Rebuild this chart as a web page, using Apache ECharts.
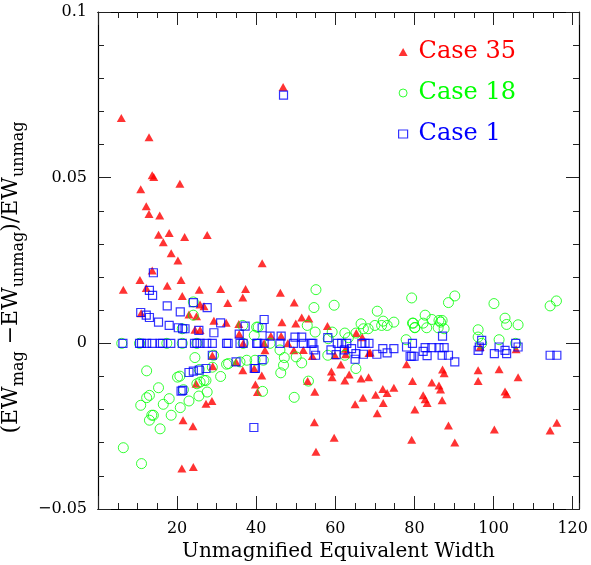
<!DOCTYPE html>
<html>
<head>
<meta charset="utf-8">
<title>EW mag vs unmag</title>
<script src="https://cdn.jsdelivr.net/npm/echarts@6/dist/echarts.min.js"></script>
<style>
    html,body{margin:0;padding:0;background:#fff;}
    #chart{width:591px;height:565px;}
</style>
</head>
<body>
<div id="chart"></div>
<script>
//数据 [Unmagnified EW, (EWmag-EWunmag)/EWunmag]
var case35 = [
    [5.9,0.068],[12.9,0.0622],[13.7,0.0507],[14.1,0.0502],[20.7,0.0482],[10.8,0.0465],[12.2,0.0414],[12.9,0.039],
    [15.6,0.0386],[15.3,0.0328],[18.0,0.0333],[21.9,0.0321],[27.6,0.0327],[16.5,0.0305],[18.5,0.0272],[20.2,0.025],
    [41.5,0.0242],[13.7,0.022],[10.6,0.0191],[21.0,0.0191],[12.2,0.0167],[17.5,0.0174],[6.4,0.0162],[25.6,0.0162],
    [31.0,0.0164],[37.3,0.0164],[46.1,0.0153],[10.9,0.0091],[21.3,0.0143],[25.8,0.0117],[26.8,0.0112],[32.8,0.0122],
    [36.6,0.0138],[23.0,0.0087],[24.9,0.0082],[29.3,0.0068],[32.4,0.0062],[35.6,0.0058],[24.5,0.0041],[25.8,0.004],
    [35.7,0.0028],[36.7,0.0],[28.9,-0.0037],[29.0,-0.0069],[34.9,-0.0056],[36.6,-0.0081],[39.8,-0.0124],[40.3,-0.0147],
    [24.8,-0.0122],[28.8,-0.0174],[27.3,-0.0182],[21.5,-0.0232],[24.0,-0.025],[21.2,-0.0378],[24.1,-0.0373],
    [49.6,0.0123],[46.5,0.0064],[50.0,0.006],[51.5,0.0078],[53.3,0.0075],[58.0,0.0052],[65.3,0.0031],[66.8,0.0018],
    [42.2,-0.0021],[43.7,0.0022],[46.3,0.0022],[48.0,0.0],[49.5,-0.0021],[51.9,-0.002],[54.2,-0.0038],[59.9,-0.0036],
    [62.6,-0.0016],[62.6,-0.0033],[68.5,-0.0029],[78.0,-0.0063],[39.5,-0.0076],[41.4,-0.0097],[42.0,0.0],
    [61.4,-0.0064],[59.0,-0.0085],[59.2,-0.0102],[63.5,-0.0094],[62.4,-0.0112],[53.0,-0.0114],[54.8,-0.0146],
    [66.5,-0.0106],[68.4,-0.0102],[68.8,-0.0028],[79.5,-0.0114],[72.0,-0.0138],[73.1,-0.015],[74.8,-0.0134],
    [70.2,-0.0155],[67.0,-0.0164],[65.0,-0.0184],[72.1,-0.018],[70.6,-0.0211],[80.1,-0.02],[54.7,-0.0238],
    [59.7,-0.0285],[79.3,-0.0291],[55.1,-0.0327],[87.1,-0.0079],[87.5,-0.009],[96.1,-0.0081],[101.4,-0.0078],
    [106.2,-0.0102],[84.4,-0.0118],[86.2,-0.0127],[86.6,-0.0139],[96.1,-0.0114],[102.9,-0.0145],[103.3,-0.0154],
    [82.2,-0.0157],[82.7,-0.0169],[83.2,-0.018],[87.0,-0.0172],[88.6,-0.0248],[100.2,-0.026],[114.3,-0.0263],
    [116.0,-0.024],[90.2,-0.0299],[96.6,-0.0011],[105.7,-0.0018],[46.8,0.0774]
];
var case18 = [
    [6.0,0],[10.5,0],[17.4,0],[21.3,0],[25.0,0],[36.7,0],[24.1,0.0125],[24.1,0.0085],[36.6,0.0054],[40.1,0.0049],
    [39.5,0.0024],[21.3,0.0044],[24.5,-0.0043],[29.2,-0.0036],[28.9,-0.0072],[32.5,-0.0063],[33.0,-0.0061],
    [35.9,-0.0056],[37.6,-0.0051],[39.7,-0.0051],[41.8,-0.0051],[12.3,-0.0083],[20.1,-0.0102],[20.7,-0.0099],
    [25.6,-0.0079],[21.6,-0.014],[25.0,-0.0122],[25.8,-0.0117],[26.8,-0.0112],[27.3,-0.0112],[31.0,-0.01],
    [27.6,-0.0147],[25.5,-0.0159],[23.0,-0.0174],[20.8,-0.0194],[15.3,-0.0134],[13.0,-0.0157],[12.3,-0.0164],
    [10.8,-0.0187],[16.5,-0.0184],[18.0,-0.0167],[18.5,-0.0217],[13.6,-0.0217],[14.0,-0.0217],[13.0,-0.0232],
    [15.7,-0.0258],[6.4,-0.0315],[11.0,-0.0363],
    [55.1,0.0162],[54.6,0.0108],[59.7,0.0115],[79.3,0.0137],[70.6,0.0097],[72.1,0.0067],[74.8,0.0064],[73.1,0.0054],
    [71.7,0.0054],[70.0,0.0054],[68.3,0.0044],[66.5,0.0059],[67.1,0.0044],[79.5,0.0061],[80.1,0.0048],[40.5,0.0049],
    [52.9,0.0054],[54.9,0.0034],[59.2,0.0034],[62.4,0.0031],[63.3,0.0017],[65.2,0.0031],[58.2,0.0014],[43.5,0],
    [46.0,-0.002],[47.1,-0.0043],[46.9,-0.0066],[46.2,-0.0089],[50.1,-0.0041],[51.5,-0.0059],[58.1,-0.0036],
    [62.4,-0.0036],[65.2,-0.0076],[77.9,0.0011],[41.6,-0.0145],[49.6,-0.0163],[53.2,-0.0114],
    [90.2,0.0143],[88.6,0.0123],[100.1,0.012],[115.9,0.0128],[114.3,0.0113],[82.7,0.0085],[84.4,0.0072],[83.1,0.0047],
    [82.2,0.0061],[79.7,0.0061],[80.1,0.0047],[86.2,0.0069],[87.0,0.0069],[86.6,0.0064],[86.0,0.0047],[87.5,0.0044],
    [102.9,0.0076],[103.3,0.0057],[106.2,0.0056],[96.1,0.0041],[96.1,0.0019],[101.4,0.0011],[105.6,0],[97.0,0]
];
var case1 = [
    [14.0,0.0213],[13.0,0.016],[13.8,0.0145],[10.8,0.0093],[12.2,0.0085],[13.0,0.0078],[17.5,0.0113],[20.8,0.0095],
    [24.1,0.0123],[27.6,0.0108],[15.3,0.0064],[18.0,0.0054],[20.3,0.0047],[21.4,0.0044],[22.0,0.0044],[25.5,0.0039],
    [29.3,0.0032],[31.0,0.0062],[37.2,0.0052],[35.7,0.0028],
    [6.3,0],[10.5,0],[11.0,0],[12.3,0],[13.7,0],[15.7,0],[16.3,0],[18.4,0],[21.3,0],[24.4,0],[25.0,0],[25.8,0],
    [27.5,0],[28.9,0],[32.5,0],[32.9,0],[35.9,0],[36.7,0],[40.1,0],
    [28.9,-0.0036],[34.9,-0.0056],[27.3,-0.0076],[25.6,-0.0081],[24.1,-0.0084],[23.0,-0.0088],[39.8,-0.0076],
    [21.4,-0.0142],[21.0,-0.0144],[39.4,-0.0254],
    [42.0,0.0072],[41.5,0.0047],[43.5,0.0022],[46.3,0.0022],[49.8,0.0019],[51.5,0.0019],[58.1,0.0017],[40.4,0],
    [42.0,0],[46.0,0],[49.4,0],[51.9,0],[53.9,0],[54.3,0],[60.5,0],[61.6,0],[62.9,0],[66.7,0],[67.5,0],[68.5,0],
    [54.6,-0.002],[58.9,-0.002],[62.3,-0.002],[64.1,-0.0016],[55.0,-0.0036],[60.2,-0.0034],[65.2,-0.0031],
    [67.1,-0.0033],[70.5,-0.0033],[72.0,-0.0016],[73.1,-0.0029],[74.8,-0.0016],[65.0,-0.0048],[41.5,-0.0049],
    [39.5,-0.0076],[78.0,-0.0011],[79.5,0],[78.9,-0.0039],[79.9,-0.0039],
    [87.1,0.0022],[97.0,0.0009],[96.4,-0.0011],[96.1,-0.0021],[82.7,-0.0013],[84.4,-0.0013],[86.2,-0.0013],
    [87.5,-0.0013],[82.2,-0.0024],[83.2,-0.0037],[87.0,-0.0036],[88.6,-0.0036],[90.2,-0.0056],[79.3,-0.0039],
    [100.2,-0.0031],[101.4,-0.0011],[102.9,-0.0021],[103.3,-0.0031],[105.6,0],[106.2,-0.0011],[114.3,-0.0036],
    [116.0,-0.0036],[46.9,0.0749]
];
var seriesNames = ['Case 35','Case 18','Case 1'];
var seriesColors = ['#ff0000','#00ff00','#0000ff'];
//坐标轴范围及刻度
var xRange = [0, 121.6];
var yRange = [-0.05, 0.1];
var xTickMajor = 20, xTickMinor = 5;
var yTickMajor = 0.05;
var yTickLabels = {'0.1':'0.1','0.05':'0.05','0':'0','-0.05':'\u22120.05'};

var fontFam = 'DejaVu Serif';

//x轴 (底部/顶部, 长刻度/短刻度)
function xAxisCfg(pos, interval, len, showLabel) {
    return {
        type: 'value',
        position: pos,
        min: xRange[0],
        max: xRange[1],
        interval: interval,
        axisLine: {show: true, onZero: false, lineStyle: {color: '#000', width: 1.2}},
        axisTick: {show: true, inside: true, length: len, lineStyle: {color: '#222', width: 1}},
        splitLine: {show: false},
        axisLabel: {
            show: showLabel,
            margin: 12,
            color: '#000',
            fontFamily: fontFam,
            fontSize: 16,
            showMaxLabel: false,
            formatter: function (v) {
                if (v <= 0 || Math.abs(v % xTickMajor) > 1e-6) return '';
                return String(v);
            }
        }
    };
}
//y轴
function yAxisCfg(pos, showLabel) {
    var cfg = {
        type: 'value',
        position: pos,
        min: yRange[0],
        max: yRange[1],
        interval: yTickMajor,
        axisLine: {show: true, onZero: false, lineStyle: {color: '#000', width: 1.2}},
        axisTick: {show: true, inside: true, length: 13, lineStyle: {color: '#222', width: 1}},
        minorTick: {show: true, splitNumber: 5, length: 6, lineStyle: {color: '#222', width: 1}},
        splitLine: {show: false},
        axisLabel: {
            show: showLabel,
            margin: 11,
            color: '#000',
            fontFamily: fontFam,
            fontSize: 16,
            formatter: function (v) {
                var k = String(Math.round(v * 100) / 100);
                return yTickLabels[k] !== undefined ? yTickLabels[k] : '';
            }
        }
    };
    if (showLabel) {
        cfg.name = '(EW{s|mag} \u2212EW{s|unmag})/EW{s|unmag}';
        cfg.nameLocation = 'middle';
        cfg.nameRotate = 90;
        cfg.nameGap = 33;
        cfg.nameTextStyle = {
            color: '#000',
            fontFamily: fontFam,
            fontSize: 22,
            lineHeight: 32,
            padding: [0, 34, 0, 0],
            rich: {
                s: {fontFamily: fontFam, fontSize: 16, verticalAlign: 'bottom', lineHeight: 24, padding: [9, 0, 0, 0]}
            }
        };
    }
    return cfg;
}

function buildSeries() {
    var markStyles = [
        {symbol: 'triangle', symbolSize: [9, 8], itemStyle: {color: seriesColors[0]}},
        {symbol: 'circle', symbolSize: 10, itemStyle: {color: 'rgba(0,0,0,0)', borderColor: seriesColors[1], borderWidth: 1}},
        {symbol: 'rect', symbolSize: 8, itemStyle: {color: 'rgba(0,0,0,0)', borderColor: seriesColors[2], borderWidth: 1.2}}
    ];
    var datas = [case35, case18, case1];
    var arr = [];
    for (var i = 0; i < datas.length; i++) {
        arr.push({
            name: seriesNames[i],
            type: 'scatter',
            xAxisIndex: 0,
            yAxisIndex: 0,
            symbol: markStyles[i].symbol,
            symbolSize: markStyles[i].symbolSize,
            itemStyle: markStyles[i].itemStyle,
            emphasis: {disabled: true},
            silent: true,
            z: 2 + i,
            data: datas[i]
        });
    }
    return arr;
}

function createChart() {
    var chart = echarts.init(document.getElementById('chart'), null, {renderer: 'canvas'});
    var option = {
        animation: false,
        backgroundColor: '#fff',
        grid: {left: 98, top: 12, width: 481, height: 497, containLabel: false, outerBoundsMode: 'none'},
        legend: {
            orient: 'vertical',
            left: 398,
            top: 39,
            padding: 0,
            itemGap: 15,
            itemWidth: 9,
            itemHeight: 8,
            selectedMode: false,
            textStyle: {fontFamily: fontFam, fontSize: 24, lineHeight: 26, padding: [0, 0, 0, 6]},
            data: [
                {name: seriesNames[0], icon: 'triangle', itemStyle: {color: seriesColors[0]}, textStyle: {color: seriesColors[0]}},
                {name: seriesNames[1], icon: 'circle', itemStyle: {color: 'rgba(0,0,0,0)', borderColor: seriesColors[1], borderWidth: 1}, textStyle: {color: seriesColors[1]}},
                {name: seriesNames[2], icon: 'rect', itemStyle: {color: 'rgba(0,0,0,0)', borderColor: seriesColors[2], borderWidth: 1.2}, textStyle: {color: seriesColors[2]}}
            ]
        },
        xAxis: [
            (function () {
                var a = xAxisCfg('bottom', xTickMajor, 13, true);
                a.name = 'Unmagnified Equivalent Width';
                a.nameLocation = 'middle';
                a.nameGap = 30;
                a.nameTextStyle = {color: '#000', fontFamily: fontFam, fontSize: 20};
                return a;
            })(),
            xAxisCfg('bottom', xTickMinor, 6, false),
            xAxisCfg('top', xTickMajor, 13, false),
            xAxisCfg('top', xTickMinor, 6, false)
        ],
        yAxis: [
            yAxisCfg('left', true),
            yAxisCfg('right', false)
        ],
        series: buildSeries()
    };
    chart.setOption(option);
    return chart;
}
createChart();
</script>
</body>
</html>
